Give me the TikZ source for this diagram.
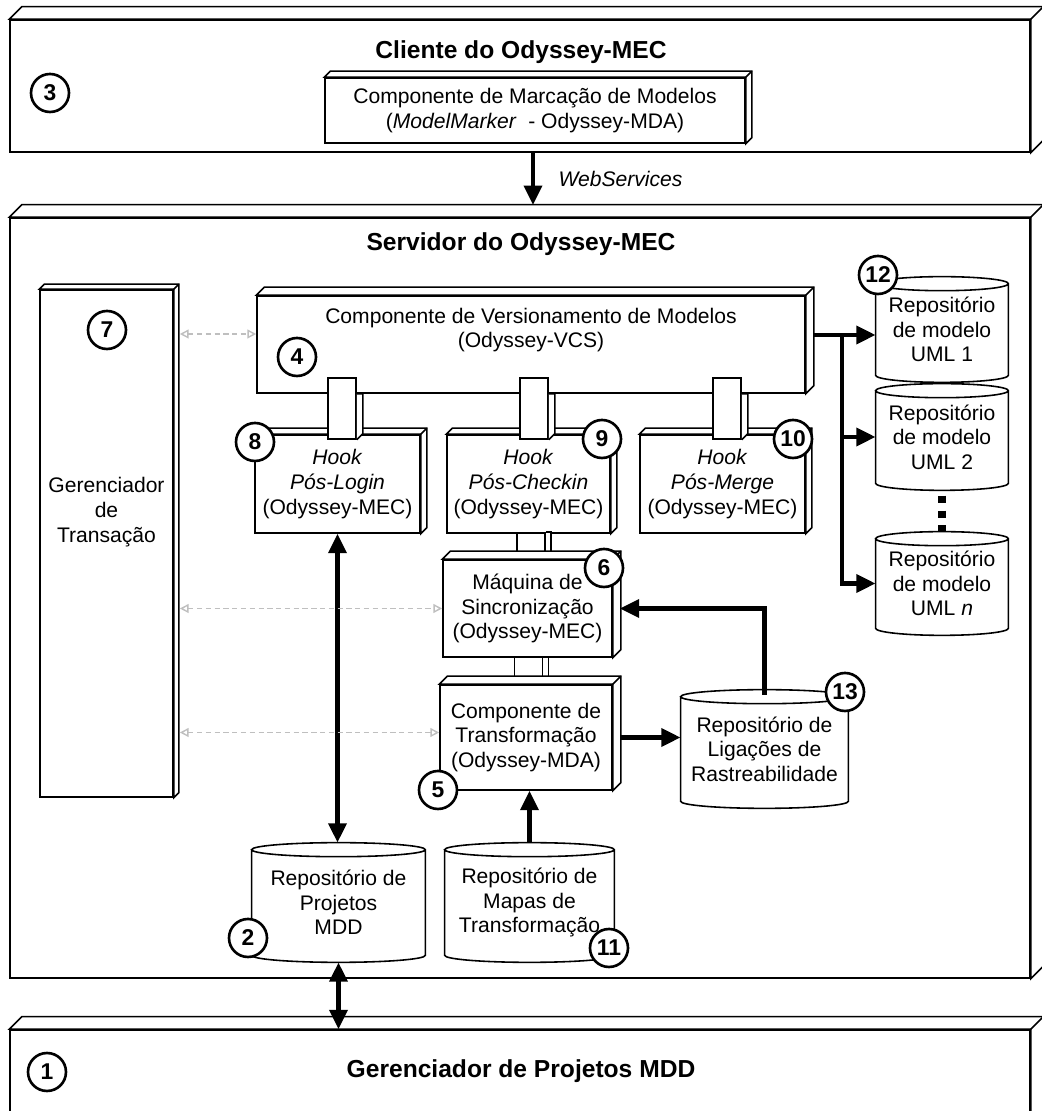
\documentclass[tikz,border=0pt]{standalone}
\usepackage{fontspec}
\setmainfont{Liberation Sans}
\usetikzlibrary{arrows.meta,calc}

\tikzset{
  box/.style={draw, line width=0.9pt, fill=white, align=center, inner sep=2pt},
  repo/.style={align=center, inner sep=0pt},
  link/.style={draw, line width=0.9pt, fill=white, minimum width=0.56cm, inner sep=0pt},
  num/.style={circle, draw, line width=1.5pt, fill=white, minimum size=0.76cm, inner sep=0pt,
    font=\bfseries\fontsize{13}{13}\selectfont},
  title/.style={font=\bfseries\fontsize{14}{16}\selectfont},
  flow/.style={line width=2.6pt, -{Triangle[length=11pt,width=10pt]}},
  flows/.style={line width=2.6pt, {Triangle[length=11pt,width=10pt]}-{Triangle[length=11pt,width=10pt]}},
  trans/.style={gray!50, line width=0.8pt, dash pattern=on 3pt off 2pt,
    {Triangle[open,length=5pt,width=5pt]}-{Triangle[open,length=5pt,width=5pt]}},
  dots/.style={line width=4pt, dash pattern=on 4pt off 4.5pt},
}

\begin{document}
\begin{tikzpicture}[font=\fontsize{12}{14}\selectfont]
\useasboundingbox (0,0) rectangle (20.84,22.22);

% the three machines
\node[box, minimum width=20.4cm, minimum height=2.64cm] (cliente) at (10.4,20.5) {};
\node[box, minimum width=20.4cm, minimum height=15.2cm] (servidor) at (10.4,10.26) {};
\node[box, minimum width=20.4cm, minimum height=2.4cm] (gerproj) at (10.4,0.42) {};

\foreach \n in {cliente,servidor,gerproj} {
  \draw[line width=0.9pt, fill=white] (\n.north west) -- ++(0.25,0.25) -- ($(\n.north east)+(0.25,0.25)$)
    -- ($(\n.south east)+(0.25,0.25)$) -- (\n.south east) -- (\n.north east) -- cycle;
  \draw[line width=0.9pt] (\n.north east) -- ++(0.25,0.25);
}

\node[title] (clientetit) at (10.42,21.18) {Cliente do Odyssey-MEC};
\node[title] (servidortit) at (10.42,17.34) {Servidor do Odyssey-MEC};
\node[title] (gerprojtit) at (10.42,0.8) {Gerenciador de Projetos MDD};

% components
\node[box, minimum width=8.4cm, minimum height=1.3cm] (marcacao) at (10.7,20.01)
  {Componente de Marcação de Modelos\\(\textit{ModelMarker}\ \ - Odyssey-MDA)};
\node[box, minimum width=2.66cm, minimum height=10.14cm] (gertrans) at (2.13,11.35) {};
\node[align=center] (gertranstxt) at (2.13,11.98) {Gerenciador\\de\\Transação};
\node[box, minimum width=10.96cm, minimum height=1.94cm] (versao) at (10.62,15.33) {};
\node[align=center] (versaotxt) at (10.62,15.62) {Componente de Versionamento de Modelos\\(Odyssey-VCS)};

\node[box, minimum width=3.3cm, minimum height=1.96cm] (hlogin) at (6.75,12.54)
  {\textit{Hook}\\\textit{Pós-Login}\\(Odyssey-MEC)};
\node[box, minimum width=3.26cm, minimum height=1.96cm] (hcheckin) at (10.57,12.54)
  {\textit{Hook}\\\textit{Pós-Checkin}\\(Odyssey-MEC)};
\node[box, minimum width=3.3cm, minimum height=1.96cm] (hmerge) at (14.45,12.54)
  {\textit{Hook}\\\textit{Pós-Merge}\\(Odyssey-MEC)};

\node[link, minimum height=0.54cm] (lsync) at (10.62,11.29) {};
\node[link, minimum height=0.56cm] (ltransf) at (10.57,8.8) {};
\foreach \n in {lsync,ltransf}
  \draw[line width=0.9pt, fill=white] (\n.north east) -- ++(0.1,0) -- ($(\n.south east)+(0.1,0)$) -- (\n.south east);

\node[box, minimum width=3.38cm, minimum height=1.94cm] (maquina) at (10.55,10.05)
  {Máquina de\\Sincronização\\(Odyssey-MEC)};
\node[box, minimum width=3.44cm, minimum height=2.1cm] (transf) at (10.52,7.47)
  {Componente de\\Transformação\\(Odyssey-MDA)};

\foreach \n/\d in {marcacao/0.12, gertrans/0.1, versao/0.16, hlogin/0.12, hcheckin/0.12,
                   hmerge/0.12, maquina/0.16, transf/0.16} {
  \draw[line width=0.9pt, fill=white] (\n.north west) -- ++(\d,\d) -- ($(\n.north east)+(\d,\d)$)
    -- ($(\n.south east)+(\d,\d)$) -- (\n.south east) -- (\n.north east) -- cycle;
  \draw[line width=0.9pt] (\n.north east) -- ++(\d,\d);
}

% hook sockets on the versioning component
\foreach \n/\x in {slogin/6.84, scheckin/10.68, smerge/14.54} {
  \node[link, minimum height=1.22cm] (\n) at (\x,14.05) {};
  \draw[line width=0.9pt, fill=white] (\n.south east) -- ++(0.12,0.12)
    -- ($(\n.east |- versao.south)+(0.12,0)$) -- (\n.east |- versao.south);
}

% repositories
\node[repo, minimum width=2.64cm, minimum height=2.1cm] (uml1) at (18.84,15.63) {Repositório\\de modelo\\UML 1};
\node[repo, minimum width=2.64cm, minimum height=2.12cm] (uml2) at (18.84,13.48) {Repositório\\de modelo\\UML 2};
\node[repo, minimum width=2.64cm, minimum height=2.06cm] (umln) at (18.84,10.55) {Repositório\\de modelo\\UML \textit{n}};
\node[repo, minimum width=3.34cm, minimum height=2.36cm] (ligacoes) at (15.29,7.24)
  {Repositório de\\Ligações de\\Rastreabilidade};
\node[repo, minimum width=3.46cm, minimum height=2.38cm] (projetos) at (6.77,4.17)
  {Repositório de\\Projetos\\MDD};
\node[repo, minimum width=3.38cm, minimum height=2.38cm] (mapas) at (10.59,4.17)
  {Repositório de\\Mapas de\\Transformação};

\foreach \c in {uml1,uml2,umln,ligacoes,projetos,mapas}
  \draw[line width=0.9pt] let \p1=(\c.north west), \p2=(\c.south east) in
    (\x1,{\y1-4pt}) -- (\x1,{\y2+4pt})
    arc[start angle=180, end angle=360, x radius={(\x2-\x1)/2}, y radius=4pt]
    -- (\x2,{\y1-4pt})
    arc[start angle=0, end angle=360, x radius={(\x2-\x1)/2}, y radius=4pt];

% connectors
\coordinate (wsb) at (10.66,18.12);
\draw[flow] (cliente.south -| wsb) -- (wsb)
  node[midway, right=0.35cm, font=\itshape\fontsize{12}{14}\selectfont] (wslabel) {WebServices};

\coordinate (tr) at (16.84,15.52);
\draw[flow] ($(versao.east |- tr)+(0.16,0)$) -- (uml1.west |- tr);
\draw[flow] (tr) |- (uml2.west);
\draw[flow] (tr) |- (umln.west);
\draw[dots, shorten <=3pt] (uml2.south) -- (umln.north);

\draw[flow] ($(transf.east)+(0.16,0)$) -- (transf.east -| ligacoes.west);
\draw[flow] ($(ligacoes.north)+(0,-0.1)$) |- ($(maquina.east)+(0.14,0)$);
\draw[flow] (mapas.north) -- (mapas.north |- transf.south);
\draw[flows] (hlogin.south) -- (hlogin.south |- projetos.north);
\draw[flows] (projetos.south) -- (projetos.south |- gerproj.north);

\draw[trans] ($(gertrans.east |- versao.west)+(0.12,0.21)$) -- ($(versao.west)+(0,0.21)$);
\draw[trans] ($(gertrans.east |- maquina.west)+(0.12,0)$) -- (maquina.west);
\draw[trans] ($(gertrans.east |- transf.west)+(0.12,0.1)$) -- ($(transf.west)+(0,0.1)$);

% numbering
\node[num] (n1) at (0.94,0.78) {1};
\node[num] (n2) at (4.96,3.46) {2};
\node[num] (n3) at (1.0,20.36) {3};
\node[num] (n4) at (5.94,15.08) {4};
\node[num] (n5) at (8.76,6.42) {5};
\node[num] (n6) at (12.08,10.86) {6};
\node[num] (n7) at (2.14,15.62) {7};
\node[num] (n8) at (5.1,13.38) {8};
\node[num] (n9) at (12.04,13.44) {9};
\node[num] (n10) at (15.86,13.44) {10};
\node[num] (n11) at (12.18,3.26) {11};
\node[num] (n12) at (17.56,16.72) {12};
\node[num] (n13) at (16.9,8.38) {13};
\end{tikzpicture}
\end{document}
